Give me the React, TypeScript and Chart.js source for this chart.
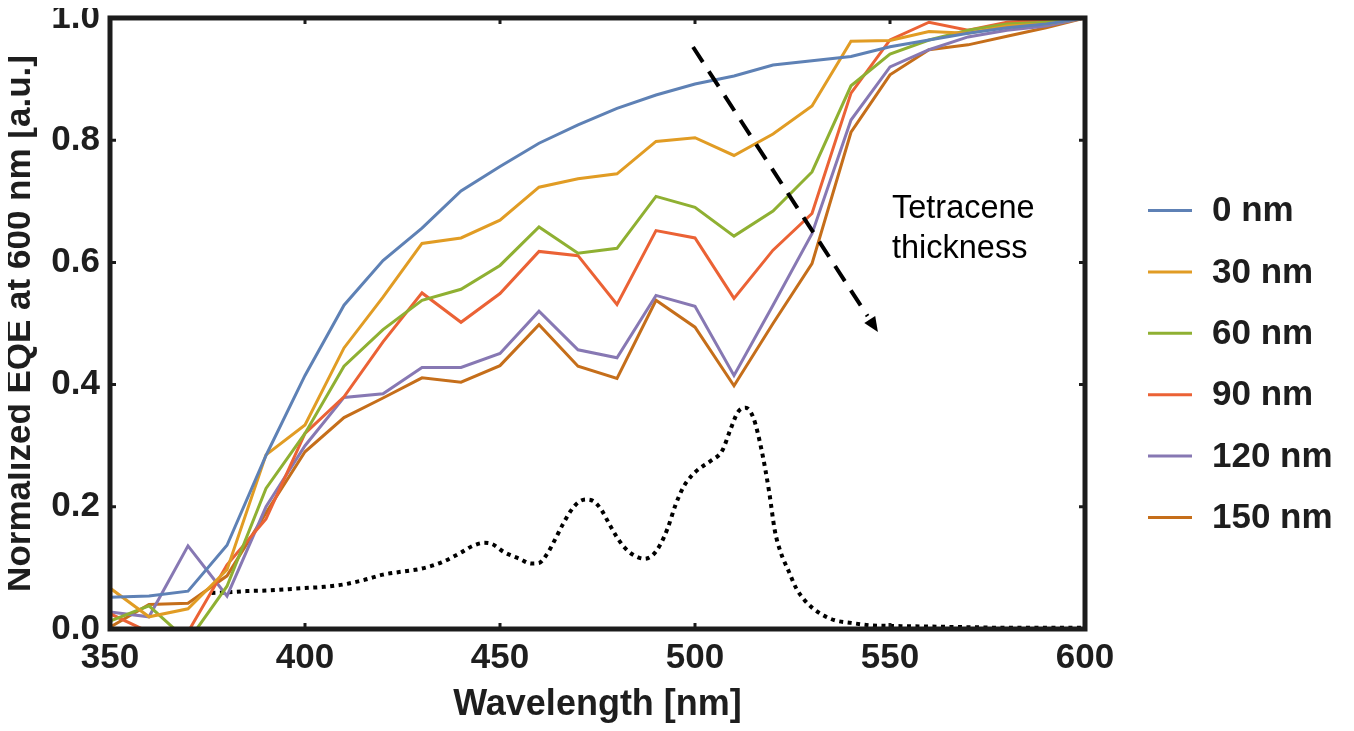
import React, { useEffect, useRef } from "react";
import { Chart, registerables } from "chart.js";

Chart.register(...registerables);

// ---------- data ----------
const wavelengths = [350, 360, 370, 380, 390, 400, 410, 420, 430, 440, 450, 460, 470, 480, 490, 500, 510, 520, 530, 540, 550, 560, 570, 580, 590, 600];

const seriesLabels = ["0 nm", "30 nm", "60 nm", "90 nm", "120 nm", "150 nm"];

const eqe0nm = [0.052, 0.054, 0.062, 0.137, 0.284, 0.415, 0.53, 0.603, 0.656, 0.717, 0.757, 0.795, 0.825, 0.852, 0.874, 0.892, 0.905, 0.923, 0.93, 0.937, 0.953, 0.964, 0.975, 0.984, 0.99, 1.0];
const eqe30nm = [0.067, 0.02, 0.033, 0.097, 0.285, 0.334, 0.46, 0.543, 0.631, 0.64, 0.669, 0.723, 0.737, 0.745, 0.798, 0.804, 0.775, 0.81, 0.856, 0.962, 0.963, 0.978, 0.975, 0.987, 0.99, 1.0];
const eqe60nm = [0.013, 0.038, -0.02, 0.07, 0.23, 0.32, 0.43, 0.49, 0.538, 0.556, 0.595, 0.658, 0.615, 0.623, 0.708, 0.69, 0.643, 0.684, 0.748, 0.889, 0.941, 0.964, 0.98, 0.99, 0.993, 1.0];
const eqe90nm = [0.025, -0.005, -0.005, 0.105, 0.18, 0.32, 0.38, 0.47, 0.55, 0.502, 0.549, 0.618, 0.611, 0.531, 0.652, 0.64, 0.541, 0.62, 0.68, 0.877, 0.964, 0.993, 0.98, 0.993, 0.997, 1.0];
const eqe120nm = [0.028, 0.02, 0.136, 0.054, 0.2, 0.3, 0.379, 0.385, 0.428, 0.428, 0.451, 0.52, 0.457, 0.444, 0.546, 0.528, 0.415, 0.53, 0.647, 0.833, 0.92, 0.948, 0.969, 0.98, 0.987, 1.0];
const eqe150nm = [0.003, 0.04, 0.042, 0.087, 0.19, 0.29, 0.346, 0.378, 0.411, 0.404, 0.431, 0.498, 0.43, 0.41, 0.538, 0.494, 0.398, 0.5, 0.598, 0.813, 0.907, 0.948, 0.956, 0.97, 0.984, 1.0];

const seriesValues = [eqe0nm, eqe30nm, eqe60nm, eqe90nm, eqe120nm, eqe150nm];
const seriesColors = ["#5E81B5", "#E19C24", "#8FB032", "#EB6235", "#8778B3", "#C56E1A"];

// tetracene absorption (dotted black curve)
const absWavelengths = [376, 380, 385, 390, 395, 400, 405, 410, 415, 420, 425, 430, 435, 440, 443, 446, 448, 451, 455, 458, 460, 462, 464, 466, 468, 470, 472, 474, 476, 478, 480, 482, 484, 487, 489, 491, 493, 495, 497, 499, 501, 504, 507, 509, 511, 513, 515, 517, 519, 520.5, 522, 524, 526, 528, 530, 533, 536, 540, 545, 550, 560, 570, 580, 590, 600];
const absValues = [0.059, 0.06, 0.062, 0.063, 0.065, 0.067, 0.069, 0.073, 0.08, 0.089, 0.094, 0.099, 0.109, 0.125, 0.136, 0.141, 0.139, 0.126, 0.115, 0.107, 0.108, 0.122, 0.145, 0.17, 0.192, 0.207, 0.212, 0.209, 0.195, 0.172, 0.15, 0.133, 0.122, 0.115, 0.12, 0.137, 0.165, 0.203, 0.232, 0.25, 0.262, 0.275, 0.292, 0.325, 0.355, 0.362, 0.345, 0.295, 0.225, 0.16, 0.125, 0.095, 0.066, 0.048, 0.035, 0.022, 0.014, 0.01, 0.006, 0.005, 0.004, 0.003, 0.002, 0.002, 0.002];

const xTickValues = [350, 400, 450, 500, 550, 600];
const yTickValues = [0, 0.2, 0.4, 0.6, 0.8, 1.0];

const xTitle = "Wavelength [nm]";
const yTitle = "Normalized EQE at 600 nm [a.u.]";
const noteLines = ["Tetracene", "thickness"];
const arrowFrom = [499.5, 0.9525];
const arrowTo = [546.9, 0.486];

const FONT = "'Liberation Sans', Arial, Helvetica, sans-serif";
const TEXT = "#1e1e1e";

const overlayPlugin = {
  id: "overlay",
  afterDatasetsDraw(chart: any) {
    const { ctx, chartArea: a, scales } = chart;
    const xs = scales.x;
    const ys = scales.y;
    ctx.save();

    // frame
    ctx.strokeStyle = "#1c1c1c";
    ctx.lineWidth = 5;
    ctx.strokeRect(a.left, a.top, a.right - a.left, a.bottom - a.top);

    // inward ticks
    ctx.lineWidth = 3;
    ctx.beginPath();
    xTickValues.slice(1, -1).forEach((v) => {
      const px = xs.getPixelForValue(v);
      ctx.moveTo(px, a.bottom);
      ctx.lineTo(px, a.bottom - 6);
      ctx.moveTo(px, a.top);
      ctx.lineTo(px, a.top + 6);
    });
    yTickValues.slice(1, -1).forEach((v) => {
      const py = ys.getPixelForValue(v);
      ctx.moveTo(a.left, py);
      ctx.lineTo(a.left + 6, py);
      ctx.moveTo(a.right, py);
      ctx.lineTo(a.right - 6, py);
    });
    ctx.stroke();

    // dashed arrow
    const x0 = xs.getPixelForValue(arrowFrom[0]);
    const y0 = ys.getPixelForValue(arrowFrom[1]);
    const x1 = xs.getPixelForValue(arrowTo[0]);
    const y1 = ys.getPixelForValue(arrowTo[1]);
    const ang = Math.atan2(y1 - y0, x1 - x0);
    const headLen = 15;
    const headW = 6.5;
    const bx = x1 - headLen * Math.cos(ang);
    const by = y1 - headLen * Math.sin(ang);
    ctx.strokeStyle = "#000";
    ctx.lineWidth = 4;
    ctx.setLineDash([18, 11]);
    ctx.beginPath();
    ctx.moveTo(x0, y0);
    ctx.lineTo(bx - 4 * Math.cos(ang), by - 4 * Math.sin(ang));
    ctx.stroke();
    ctx.setLineDash([]);
    ctx.fillStyle = "#000";
    ctx.beginPath();
    ctx.moveTo(x1, y1);
    ctx.lineTo(bx + headW * Math.sin(ang), by - headW * Math.cos(ang));
    ctx.lineTo(bx - headW * Math.sin(ang), by + headW * Math.cos(ang));
    ctx.closePath();
    ctx.fill();

    // note text
    ctx.fillStyle = "#000";
    ctx.font = `32.5px ${FONT}`;
    ctx.textAlign = "left";
    ctx.textBaseline = "alphabetic";
    const nx = xs.getPixelForValue(550.5);
    ctx.fillText(noteLines[0], nx, ys.getPixelForValue(0.673));
    ctx.fillText(noteLines[1], nx, ys.getPixelForValue(0.607));

    // legend
    const rowH = 61.4;
    const cy = a.top + 346;
    const startY = cy - rowH * 2.5;
    ctx.font = `bold 35px ${FONT}`;
    ctx.textBaseline = "middle";
    seriesLabels.forEach((lab, i) => {
      const yy = startY + i * rowH;
      ctx.strokeStyle = seriesColors[i];
      ctx.lineWidth = 3;
      ctx.beginPath();
      ctx.moveTo(a.right + 63, yy);
      ctx.lineTo(a.right + 107, yy);
      ctx.stroke();
      ctx.fillStyle = TEXT;
      ctx.fillText(lab, a.right + 127, yy + 1);
    });

    ctx.restore();
  },
};

export default function App() {
  const canvasRef = useRef<HTMLCanvasElement | null>(null);

  useEffect(() => {
    if (!canvasRef.current) return;
    const datasets: any[] = seriesLabels.map((lab, i) => ({
      label: lab,
      data: wavelengths.map((w, j) => ({ x: w, y: seriesValues[i][j] })),
      borderColor: seriesColors[i],
      backgroundColor: seriesColors[i],
      borderWidth: 3,
      pointRadius: 0,
      tension: 0,
      fill: false,
    }));
    datasets.push({
      label: "absorption",
      data: absWavelengths.map((w, j) => ({ x: w, y: absValues[j] })),
      borderColor: "#000",
      backgroundColor: "#000",
      borderWidth: 4,
      borderDash: [4, 4.5],
      pointRadius: 0,
      cubicInterpolationMode: "monotone",
      fill: false,
    });

    const chart = new Chart(canvasRef.current, {
      type: "line",
      data: { datasets },
      plugins: [overlayPlugin],
      options: {
        animation: false,
        responsive: true,
        maintainAspectRatio: false,
        layout: { padding: { top: 0, right: 261, left: 0, bottom: 0 } },
        plugins: {
          legend: { display: false },
          tooltip: { enabled: false },
        },
        scales: {
          x: {
            type: "linear",
            min: 350,
            max: 600,
            afterFit: (s: any) => {
              s.height = 94;
            },
            afterBuildTicks: (s: any) => {
              s.ticks = xTickValues.map((v) => ({ value: v }));
            },
            grid: { display: false, drawTicks: false },
            border: { display: false },
            ticks: {
              autoSkip: false,
              maxRotation: 0,
              padding: 8,
              color: TEXT,
              font: { family: FONT, size: 35, weight: "bold" },
              callback: (v: any) => String(v),
            },
            title: {
              display: true,
              text: xTitle,
              color: TEXT,
              padding: 0,
              font: { family: FONT, size: 36, weight: "bold", lineHeight: 1 },
            },
          },
          y: {
            type: "linear",
            min: 0,
            max: 1,
            afterFit: (s: any) => {
              s.width = 102;
            },
            afterBuildTicks: (s: any) => {
              s.ticks = yTickValues.map((v) => ({ value: v }));
            },
            grid: { display: false, drawTicks: false },
            border: { display: false },
            ticks: {
              padding: 10,
              color: TEXT,
              font: { family: FONT, size: 35, weight: "bold", lineHeight: 0.57 },
              callback: (v: any) => Number(v).toFixed(1),
            },
            title: {
              display: true,
              text: yTitle,
              color: TEXT,
              padding: 0,
              font: { family: FONT, size: 35, weight: "bold", lineHeight: 0.69 },
            },
          },
        },
      },
    });
    return () => chart.destroy();
  }, []);

  return (
    <div style={{ position: "relative", width: 1338, height: 725, marginTop: -10 }}>
      <canvas ref={canvasRef} />
    </div>
  );
}
